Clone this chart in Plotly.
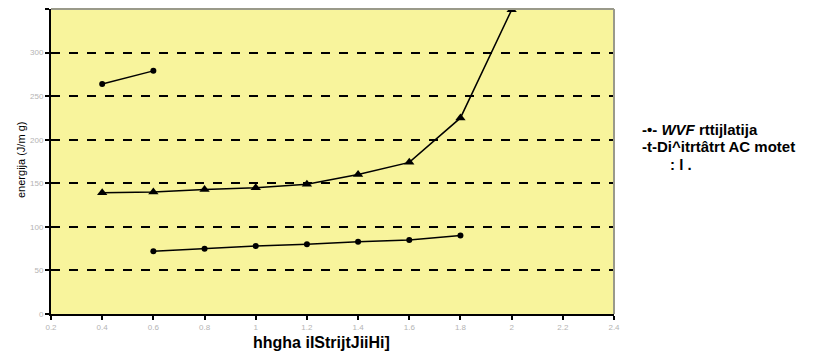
import plotly.graph_objects as go

# Data
x_wvf = [0.6, 0.8, 1.0, 1.2, 1.4, 1.6, 1.8]
y_wvf = [72, 75, 78, 80, 83, 85, 90]

x_dig = [0.4, 0.6, 0.8, 1.0, 1.2, 1.4, 1.6, 1.8, 2.0]
y_dig = [139, 140, 143, 145, 149, 160, 174, 225, 349]

x_top = [0.4, 0.6]
y_top = [264, 279]

x_ticks = [0.2, 0.4, 0.6, 0.8, 1.0, 1.2, 1.4, 1.6, 1.8, 2.0, 2.2, 2.4]
x_ticktext = ["0.2", "0.4", "0.6", "0.8", "1", "1.2", "1.4", "1.6", "1.8", "2", "2.2", "2.4"]
y_ticks = [0, 50, 100, 150, 200, 250, 300, 350]

legend_lines = ["-•- <i>WVF</i> rttijlatija", "-t-Di^itrtâtrt AC motet", ": l ."]
x_title = "hhgha iIStrijtJiiHi]"
y_title = "energija (J/m g)"

FONT = "Liberation Sans Narrow, Arial Narrow, Liberation Sans, Arial, sans-serif"

# page body has an 8px margin: figure origin sits at (8, 8) in the window
OFF = 8
W, H = 832 - OFF, 358 - OFF
PL, PR, PT, PB = 51, 614, 9, 314   # plot area in window pixels
pw, ph = PR - PL, PB - PT

def px(x):
    return (x - PL) / pw

def py(y):
    return 1 - (y - PT) / ph

fig = go.Figure()
fig.add_trace(go.Scatter(x=x_wvf, y=y_wvf, mode="lines+markers",
                         line=dict(color="black", width=1.5),
                         marker=dict(symbol="circle", size=6, color="black"),
                         showlegend=False))
fig.add_trace(go.Scatter(x=x_dig, y=y_dig, mode="lines+markers",
                         line=dict(color="black", width=1.5),
                         marker=dict(symbol="triangle-up", size=9, color="black"),
                         showlegend=False))
fig.add_trace(go.Scatter(x=x_top, y=y_top, mode="lines+markers",
                         line=dict(color="black", width=1.5),
                         marker=dict(symbol="circle", size=6, color="black"),
                         showlegend=False))

tickfont = dict(size=8, color="#b4b4b4", family="Liberation Sans, Arial, sans-serif")
fig.update_layout(
    width=W, height=H,
    margin=dict(l=PL - OFF, r=W - (PR - OFF), t=PT - OFF, b=H - (PB - OFF), autoexpand=False),
    paper_bgcolor="white",
    plot_bgcolor="#F8F49C",
    font=dict(family=FONT, color="black"),
    xaxis=dict(range=[0.2, 2.4], tickvals=x_ticks, ticktext=x_ticktext,
               showgrid=False, zeroline=False,
               showline=True, linecolor="black", linewidth=2, mirror=False,
               ticks="outside", ticklen=4, tickcolor="black", tickwidth=1.5,
               tickfont=tickfont),
    yaxis=dict(range=[0, 350], tickvals=y_ticks,
               showgrid=True, gridcolor="black", griddash="dash", gridwidth=2,
               zeroline=False,
               showline=True, linecolor="black", linewidth=2,
               ticks="outside", ticklen=4, tickcolor="black", tickwidth=1.5,
               tickfont=tickfont),
)

# top and right border of the plot area (gray)
fig.add_shape(type="line", xref="paper", yref="paper", x0=0, x1=1, y0=1, y1=1,
              line=dict(color="#9a9a8a", width=2))
fig.add_shape(type="line", xref="paper", yref="paper", x0=1, x1=1, y0=0, y1=1,
              line=dict(color="#9a9a8a", width=2))

# axis titles
fig.add_annotation(text=f"<b>{x_title}</b>", xref="paper", yref="paper",
                   x=px(321), y=py(342), yanchor="middle", showarrow=False,
                   font=dict(size=16, family=FONT, color="black"))
fig.add_annotation(text=y_title, xref="paper", yref="paper",
                   x=px(21), y=py(160), xanchor="center", yanchor="middle",
                   textangle=-90, showarrow=False,
                   font=dict(size=11, family=FONT, color="black"))

# legend as text
for i, t in enumerate(legend_lines):
    xx = 640 if i < 2 else 668
    fig.add_annotation(text=f"<b>{t}</b>", xref="paper", yref="paper",
                       x=px(xx), y=py(129.5 + 17.5 * i),
                       xanchor="left", yanchor="middle", showarrow=False,
                       font=dict(size=15, family=FONT, color="black"))

fig.write_html("out.html")
